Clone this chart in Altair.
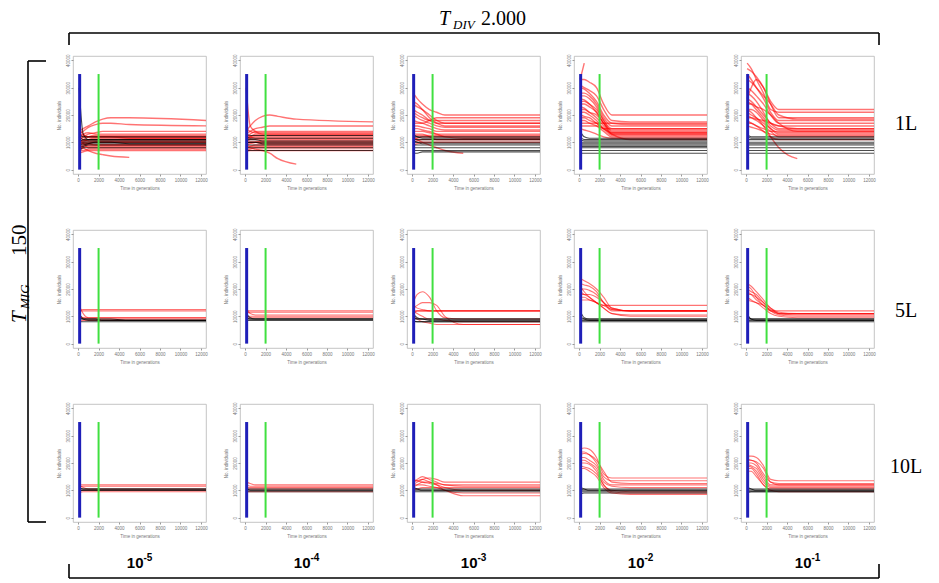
import altair as alt
import pandas as pd

# ---------------- data (in thousands of individuals) -------------
TIME = [100, 500, 1000, 1700, 2400, 3200, 5000, 12500]
X_TICKS = [0, 2000, 4000, 6000, 8000, 10000, 12000]
Y_TICKS = [0, 10000, 20000, 30000, 40000]
ROW_LABELS = ["1L", "5L", "10L"]
COL_EXPONENTS = ["-5", "-4", "-3", "-2", "-1"]
BLUE_X = 150
GREEN_X = 2000
MARKER_TOP = 35000
N = None

R1C1_RED = [
    [12, 11, 10.5, 10.5, 10.5, 10.5, 10.5, 10.5], [14, 15, 16, 17.5, 18.5, 19, 19, 18],
    [13, 14, 15.5, 16.5, 17, 17, 16.5, 16], [9, 9.5, 10, 10, 10, 10, 10, 10],
    [8, 8.5, 9, 9, 9, 9, 9, 9], [10, 11, 12, 12.5, 12.5, 12.5, 12.5, 12.5],
    [11, 12, 13, 13.5, 14, 14, 14, 14], [7, 7, 7.5, 7.5, 7.5, 7.5, 7.5, 7.5],
    [6, 6.5, 7, 7, 7, 7, 7, 7], [12, 12, 12, 12, 12, 12, 12, 12],
    [9, 8, 7, 6, 5.5, 5, 4.5, N], [10, 10.5, 11, 11, 11, 11, 11, 11],
    [8, 9, 9.5, 10, 10, 10, 10, 10], [13, 12.5, 12, 12, 12, 12, 12, 12],
    [11, 10, 9.5, 9, 9, 9, 9, 9], [15, 13, 12, 12, 12, 12, 11.5, 11.5],
    [7, 8, 8.5, 8.5, 8.5, 8.5, 8.5, 8.5], [9, 10, 11, 11.5, 11.5, 11.5, 11.5, 11.5],
    [12, 13, 13.5, 13, 13, 13, 13, 13], [10, 9.5, 8, 8, 8, 8, 8, 8],
]
R1C1_BLACK = [
    [10, 10, 10, 10, 10, 10, 10, 10], [9, 9.5, 9.5, 9.5, 9.5, 9.5, 9.5, 9.5],
    [11, 10.5, 10.5, 10.5, 10.5, 10.5, 10.5, 10.5], [8, 8.5, 9, 9, 9, 9, 9, 9],
    [12, 11, 11, 11, 11, 11, 11, 11], [9, 9, 9.5, 10, 10, 10, 9.5, 9.5],
    [13, 12, 12, 12, 12, 12, 12, 12], [7, 8, 8, 8, 8, 8, 8, 8],
    [30, 13, 11, 11, 11, 11, 11, 11],
]
R1C2_RED = [
    [10, 10, 10, 10, 10, 10, 10, 10], [12, 13, 14, 14, 14, 14, 14, 14],
    [14, 16, 18, 19.5, 20, 19.5, 18.5, 17.5], [13, 14, 15, 15.5, 16, 16, 16, 16],
    [30, 16, 14, 13, 13, 13, 13, 13], [11, 11.5, 12, 12, 12, 12, 12, 12],
    [9, 9.5, 10, 10.5, 10.5, 10.5, 10.5, 10.5], [8, 8, 7.5, 7, 6, 4, 2, N],
    [7, 7.5, 8, 8, 8, 8, 8, 8], [12, 12, 12.5, 12.5, 12.5, 12.5, 12.5, 12.5],
    [10, 11, 11, 11, 11, 11, 11, 11], [8, 8.5, 9, 9, 9, 9, 9, 9],
    [11, 12, 13, 13, 13, 13, 13, 13], [15, 14, 13.5, 13.5, 13.5, 13.5, 13.5, 13.5],
    [9, 8.5, 8.5, 8.5, 8.5, 8.5, 8.5, 8.5], [13, 12, 11.5, 11.5, 11.5, 11.5, 11.5, 11.5],
    [6.5, 7, 7, 7, 7, 7, 7, 7], [9.5, 10, 10, 9.5, 9.5, 9.5, 9.5, 9.5],
]
R1C2_BLACK = [
    [10, 10, 10, 10, 10, 10, 10, 10], [9, 9, 9, 9, 9, 9, 9, 9],
    [11, 11, 11, 10.5, 10.5, 10.5, 10.5, 10.5], [8, 8, 8, 8, 8, 8, 8, 8],
    [12, 11.5, 11.5, 11.5, 11.5, 11.5, 11.5, 11.5], [9.5, 10, 10, 9.5, 9.5, 9.5, 9.5, 9.5],
    [7, 7, 7, 7, 7, 7, 7, 7], [13, 12.5, 12.5, 12.5, 12.5, 12.5, 12.5, 12.5],
]
R1C3_RED = [
    [28, 26, 24, 22, 21, 20, 20, 20], [25, 24, 22, 19, 17, 16, 16, 16],
    [22, 21, 20, 18, 17, 17, 17, 17], [20, 19, 18, 17, 16, 15.5, 15.5, 15.5],
    [18, 17.5, 17, 16, 15, 14.5, 14.5, 14.5], [16, 16, 15.5, 15, 14, 14, 14, 14],
    [14, 14, 14, 13.5, 13, 13, 13, 13], [12, 12.5, 12.5, 12.5, 12.5, 12.5, 12.5, 12.5],
    [11, 11.5, 12, 12, 12, 12, 12, 12], [24, 23, 22, 20, 18, 17, 17, 17],
    [15, 15, 14.5, 14, 13, 12, 11.5, 11.5], [13, 13, 13, 12, 11, 11, 11, 11],
    [10, 10.5, 11, 11, 11, 11, 11, 11], [17, 17, 17, 18, 19, 19, 19, 19],
    [21, 20, 19, 18, 18, 18, 18, 18], [9, 9.5, 10, 10, 10, 10, 10, 10],
    [12, 11, 10, 9, 8, 7, 6, N],
]
R1C3_BLACK = [
    [10, 10, 10, 10, 10, 10, 10, 10], [9, 9, 9, 9, 9, 9, 9, 9],
    [11, 11, 11, 11, 11, 11, 11, 11], [8, 8, 8, 8, 8, 8, 8, 8],
    [12, 12, 12, 12, 12, 12, 12, 12], [7, 7, 7, 7, 7, 7, 7, 7],
    [10.5, 10, 9.5, 9.5, 9.5, 9.5, 9.5, 9.5], [13, 12, 11.5, 11.5, 11.5, 11.5, 11.5, 11.5],
    [6, 6, 6.5, 6.5, 6.5, 6.5, 6.5, 6.5],
]
R1C4_RED = [
    [33, 33, 32, 30, 24, 20, 20, 20], [31, 30, 29, 27, 22, 18, 17.5, 17.5],
    [30, 29.5, 28, 25, 20, 17, 16.5, 16.5], [28, 28, 27, 24, 19, 16, 16, 16],
    [27, 27, 26, 23, 18, 15, 15, 15], [26, 25.5, 24, 21, 17, 14.5, 14.5, 14.5],
    [25, 25, 24, 22, 18, 14, 14, 14], [24, 24, 23, 21, 17, 13.5, 13.5, 13.5],
    [23, 22.5, 21, 19, 16, 13, 13, 13], [22, 22, 21, 20, 17, 13, 13, 13],
    [21, 21, 20, 18, 15, 12.5, 12.5, 12.5], [20, 19.5, 19, 17, 15, 13.5, 13.5, 13.5],
    [19, 19, 18, 17, 15, 15, 15, 15], [18, 18, 17, 16, 14, 12, 12, 12],
    [17, 17, 17, 17, 17, 17, 17, 17], [33, 39, N, N, N, N, N, N],
    [16, 16, 16, 16, 15, 13, 11, 11], [15, 14.5, 14, 13, 12, 11.5, 11.5, 11.5],
]
R1C4_BLACK = [
    [10, 10, 10, 10, 10, 10, 10, 10], [9, 9, 9, 9, 9, 9, 9, 9],
    [11, 10.5, 10.5, 10.5, 10.5, 10.5, 10.5, 10.5], [8, 8, 8, 8, 8, 8, 8, 8],
    [7, 7, 7, 7, 7, 7, 7, 7], [12, 11, 11, 11, 11, 11, 11, 11],
    [9.5, 9.5, 9.5, 9.5, 9.5, 9.5, 9.5, 9.5], [6, 6, 6, 6, 6, 6, 6, 6],
    [14, 12, 11.5, 11.5, 11.5, 11.5, 11.5, 11.5], [8.5, 8.5, 8.5, 8.5, 8.5, 8.5, 8.5, 8.5],
]
R1C5_RED = [
    [39, 37, 33, 28, 22, 21, 21, 21], [37, 36, 34, 30, 24, 19, 19, 19],
    [35, 33, 30, 26, 21, 18, 18, 18], [33, 32, 30, 27, 24, 20, 18.5, 18.5],
    [30, 29, 27, 24, 20, 17, 17, 17], [28, 27, 25, 21, 17, 16, 16, 16],
    [26, 25, 23, 20, 17, 15, 15, 15], [25, 24, 22, 19, 16, 14.5, 14.5, 14.5],
    [24, 24, 23, 22, 20, 17, 14, 14], [22, 22, 21, 18, 15, 13, 13, 13],
    [21, 20, 19, 17, 15, 13.5, 13.5, 13.5], [20, 19, 18, 16, 14, 12, 12, 12],
    [19, 19, 18.5, 18, 17, 16, 15, 15], [18, 17, 16, 14, 12, 11, 11, 11],
    [17, 17, 16, 15, 14, 14, 14, 14], [22, 21, 19, 16, 12, 8, 4, N],
    [16, 15.5, 15, 14, 13, 12.5, 12.5, 12.5], [26, 30, 33, 30, 25, 22, 22, 22],
]
R1C5_BLACK = [
    [10, 10, 10, 10, 10, 10, 10, 10], [9, 9, 9, 9, 9, 9, 9, 9],
    [11, 11, 11, 11, 11, 11, 11, 11], [8, 8, 8, 8, 8, 8, 8, 8],
    [7, 7, 7, 7, 7, 7, 7, 7], [12, 11.5, 11.5, 11.5, 11.5, 11.5, 11.5, 11.5],
    [6, 6, 6, 6, 6, 6, 6, 6], [9.5, 9.5, 9.5, 9.5, 9.5, 9.5, 9.5, 9.5],
    [13, 12, 12, 12, 12, 12, 12, 12],
]
R2C1_RED = [
    [12, 12.5, 12.5, 12.5, 12.5, 12.5, 12.5, 12.5], [12, 12, 12, 12, 12, 12, 12, 12],
    [9, 9.5, 9.5, 9.5, 9.5, 9.5, 9.5, 9.5], [8, 8.5, 8.5, 8.5, 8.5, 8.5, 8.5, 8.5],
    [14, 11, 9.5, 9.5, 9.5, 9.5, 9.5, 9.5], [10, 9.5, 9, 9, 9, 9, 9, 9],
]
R2C1_BLACK = [
    [9, 9, 9, 9, 9, 9, 8.5, 8.5], [8, 8, 8, 8, 8, 8, 8, 8],
    [9.5, 9, 9, 9, 8.5, 8.5, 8.5, 8.5], [11, 9, 8.5, 8.5, 8.5, 8.5, 8.5, 8.5],
]
R2C2_RED = [
    [12, 12, 12, 12, 12, 12, 12, 12], [11, 11.5, 11.5, 11.5, 11.5, 11.5, 11.5, 11.5],
    [10, 10, 10, 10, 10, 10, 10, 10], [9, 9.5, 9.5, 9.5, 9.5, 9.5, 9.5, 9.5],
    [13, 11, 10.5, 10.5, 10.5, 10.5, 10.5, 10.5],
]
R2C2_BLACK = [
    [9, 9, 9, 9, 9, 9, 9, 9], [8.5, 8.5, 8.5, 8.5, 8.5, 8.5, 8.5, 8.5],
    [10, 9, 9, 9, 9, 9, 9, 9], [11, 9.5, 9, 9, 9, 9, 9, 9],
]
R2C3_RED = [
    [12, 12, 12, 12, 12, 12, 12, 12], [15, 18, 19, 17, 12, 9.5, 9, 9],
    [13, 14, 15, 15, 14, 10, 7, 7], [11, 12, 12, 12, 12, 12, 12, 12],
    [12, 11, 10, 9, 9, 8.5, 8, 8], [10, 9, 8, 7.5, 7, 7, 7, 7],
    [14, 13, 12.5, 12, 12, 12, 12, 12],
]
R2C3_BLACK = [
    [9, 9, 9, 9, 9, 9, 9, 9], [8, 8, 8, 8, 8, 8, 8, 8],
    [10, 9, 9, 8.5, 8.5, 8.5, 8.5, 8.5], [11, 9.5, 9, 9, 9, 9, 9, 9],
    [8.5, 8, 8, 8, 8, 8, 8, 8],
]
R2C4_RED = [
    [24, 23, 22, 20, 17, 13, 12, 12], [22, 21.5, 21, 19, 15, 12, 12, 12],
    [20, 20, 19.5, 18, 15, 12.5, 12, 12], [18, 18, 18, 17, 15, 13, 12, 12],
    [21, 19, 17, 15, 14, 14, 14, 14], [16, 16, 16, 15, 13, 11, 10, 10],
    [19, 18, 17, 15, 13, 11, 10.5, 10.5], [17, 17, 16, 15, 14, 12.5, 12, 12],
]
R2C4_BLACK = [
    [9, 9, 9, 9, 9, 9, 9, 9], [8, 8, 8, 8, 8, 8, 8, 8],
    [10, 9, 8.5, 8.5, 8.5, 8.5, 8.5, 8.5], [8.5, 8.5, 8.5, 8.5, 8.5, 8.5, 8.5, 8.5],
    [12, 9.5, 9, 9, 9, 9, 9, 9],
]
R2C5_RED = [
    [22, 21, 19, 16, 13, 11, 10.5, 10.5], [20, 19, 18, 15, 12, 10.5, 10, 10],
    [18, 18, 17, 15, 13, 11.5, 11, 11], [17, 16, 15, 14, 12, 11, 11, 11],
    [21, 20, 17, 14, 12, 12, 12, 12], [16, 15.5, 15, 13, 11, 10, 9.5, 9.5],
    [19, 18, 16, 14, 12.5, 11, 11, 11],
]
R2C5_BLACK = [
    [9, 9, 9, 9, 9, 9, 9, 9], [8, 8, 8, 8, 8, 8, 8, 8],
    [10, 9, 8.5, 8.5, 8.5, 8.5, 8.5, 8.5], [11, 9, 9, 9, 9, 9, 9, 9],
    [8.5, 8.5, 8.5, 8.5, 8.5, 8.5, 8.5, 8.5],
]
R3C1_RED = [
    [11, 11.5, 11.5, 11.5, 11.5, 11.5, 11.5, 11.5], [12, 11, 10.5, 10.5, 10.5, 10.5, 10.5, 10.5],
    [10, 10, 10, 10, 10, 10, 10, 10], [12, 12, 12, 12, 12, 12, 12, 12],
    [9, 9.5, 9.5, 9.5, 9.5, 9.5, 9.5, 9.5],
]
R3C1_BLACK = [
    [10.5, 10.5, 10.5, 10.5, 10.5, 10.5, 10.5, 10.5], [10, 10, 10, 10, 10, 10, 10, 10],
    [11, 10.5, 10.5, 10.5, 10.5, 10.5, 10.5, 10.5], [9.5, 10, 10, 10, 10, 10, 10, 10],
]
R3C2_RED = [
    [13, 12.5, 12, 12, 12, 12, 12, 12], [11, 11, 11, 11, 11, 11, 11, 11],
    [10, 10.5, 10.5, 10.5, 10.5, 10.5, 10.5, 10.5], [12, 11.5, 11.5, 11.5, 11.5, 11.5, 11.5, 11.5],
    [9.5, 9.5, 9.5, 9.5, 9.5, 9.5, 9.5, 9.5],
]
R3C2_BLACK = [
    [10, 10, 10, 10, 10, 10, 10, 10], [10.5, 10.5, 10.5, 10.5, 10.5, 10.5, 10.5, 10.5],
    [11, 10, 10, 10, 10, 10, 10, 10], [9.5, 9.5, 9.5, 9.5, 9.5, 9.5, 9.5, 9.5],
]
R3C3_RED = [
    [13, 14, 15, 14, 13, 12, 12, 12], [12, 13, 14, 14.5, 14, 13, 13, 13],
    [14, 13.5, 13, 12.5, 12, 11, 10, 10], [11, 12, 13, 13, 12, 10, 9, 9],
    [12, 12, 12, 11.5, 11, 10, 8, 8], [13, 13.5, 14, 13, 12.5, 12, 11.5, 11.5],
    [10, 10.5, 11, 11, 11, 11, 11, 11],
]
R3C3_BLACK = [
    [10, 10, 10, 10, 10, 10, 10, 10], [10.5, 10.5, 10.5, 10.5, 10.5, 10.5, 10.5, 10.5],
    [11, 10.5, 10, 10, 10, 10, 10, 10], [9.5, 9.5, 9.5, 9.5, 9.5, 9.5, 9.5, 9.5],
]
R3C4_RED = [
    [25, 25.5, 25, 22, 16, 14.5, 14.5, 14.5], [24, 24, 23, 20, 15, 13.5, 13.5, 13.5],
    [23, 23.5, 23, 21, 17, 13, 12.5, 12.5], [22, 22, 21, 19, 14, 12, 12, 12],
    [21, 21, 20, 18, 13, 11.5, 11, 11], [20, 20, 19.5, 17, 12, 10, 9.5, 9.5],
    [19, 18.5, 18, 16, 12, 9.5, 9, 9], [18, 18, 17, 15, 11, 9, 8.5, 8.5],
]
R3C4_BLACK = [
    [10, 10, 10, 10, 10, 10, 10, 10], [9.5, 9.5, 9.5, 9.5, 9.5, 9.5, 9.5, 9.5],
    [11, 10.5, 10, 10, 10, 10, 10, 10], [10, 10.5, 10.5, 10.5, 10.5, 10.5, 10.5, 10.5],
    [8.5, 9, 9, 9, 9, 9, 9, 9],
]
R3C5_RED = [
    [22.5, 22.5, 22, 19, 14, 13.5, 13.5, 13.5], [21, 21, 20, 16, 13, 12.5, 12.5, 12.5],
    [20, 20, 19, 15, 12, 12, 12, 12], [19.5, 19, 18, 14, 11.5, 11.5, 11.5, 11.5],
    [19, 18.5, 17, 13, 11, 11, 11, 11], [18, 18, 16, 12, 10.5, 10.5, 10.5, 10.5],
    [21.5, 21, 20.5, 18, 13, 12, 12, 12], [17, 17, 15, 12, 10, 9.5, 9.5, 9.5],
]
R3C5_BLACK = [
    [10, 10, 10, 10, 10, 10, 10, 10], [9.5, 9.5, 9.5, 9.5, 9.5, 9.5, 9.5, 9.5],
    [11, 10.5, 10, 10, 10, 10, 10, 10], [10.5, 10.5, 10.5, 10.5, 10.5, 10.5, 10.5, 10.5],
    [9, 9.5, 9.5, 9.5, 9.5, 9.5, 9.5, 9.5],
]

PANELS = {
    (0, 0): (R1C1_RED, R1C1_BLACK), (0, 1): (R1C2_RED, R1C2_BLACK), (0, 2): (R1C3_RED, R1C3_BLACK),
    (0, 3): (R1C4_RED, R1C4_BLACK), (0, 4): (R1C5_RED, R1C5_BLACK),
    (1, 0): (R2C1_RED, R2C1_BLACK), (1, 1): (R2C2_RED, R2C2_BLACK), (1, 2): (R2C3_RED, R2C3_BLACK),
    (1, 3): (R2C4_RED, R2C4_BLACK), (1, 4): (R2C5_RED, R2C5_BLACK),
    (2, 0): (R3C1_RED, R3C1_BLACK), (2, 1): (R3C2_RED, R3C2_BLACK), (2, 2): (R3C3_RED, R3C3_BLACK),
    (2, 3): (R3C4_RED, R3C4_BLACK), (2, 4): (R3C5_RED, R3C5_BLACK),
}

# ---------------- layout constants -------------
PW, PH = 133, 118
SERIF = "Liberation Serif"
SANS = "Liberation Sans"


def lines_frame(lines, kind):
    rows = []
    for i, line in enumerate(lines):
        for t, v in zip(TIME, line):
            rows.append({"line": f"{kind}{i}", "t": t,
                         "n": None if v is None else v * 1000})
    return pd.DataFrame(rows)


xs = alt.Scale(domain=[-500, 12500], nice=False, zero=False)
ys = alt.Scale(domain=[-1600, 41600], nice=False, zero=False)
x_axis = alt.Axis(values=X_TICKS, format="d", title="Time in generations", grid=False,
                  domain=False, labelFontSize=4.5, titleFontSize=4.5, tickSize=2,
                  labelPadding=1, titlePadding=4, labelColor="#777", titleColor="#777",
                  tickColor="#999", labelFont=SANS, titleFont=SANS, titleFontWeight="normal",
                  labelFlush=False)
y_axis = alt.Axis(values=Y_TICKS, format="d", title="No. individuals", grid=False, domain=False,
                  labelFontSize=4.5, titleFontSize=4.5, tickSize=2, labelPadding=1,
                  titlePadding=4, labelAngle=270, labelColor="#777", titleColor="#777",
                  tickColor="#999", labelFont=SANS, titleFont=SANS, titleFontWeight="normal",
                  labelFlush=False)


def one_row(**kw):
    return pd.DataFrame([kw])


def txt(text, x, y, size, font=SERIF, style="normal", weight="normal", align="left",
        baseline="alphabetic", angle=0):
    return alt.Chart(one_row(label=text)).mark_text(
        font=font, fontSize=size, fontStyle=style, fontWeight=weight, align=align,
        baseline=baseline, angle=angle, color="black"
    ).encode(x=alt.value(x), y=alt.value(y), text="label:N")


def hrule(x1, x2, y):
    return alt.Chart(one_row(k=1)).mark_rule(color="black", strokeWidth=1.6).encode(
        x=alt.value(x1), x2=alt.value(x2), y=alt.value(y))


def vrule(x, y1, y2):
    return alt.Chart(one_row(k=1)).mark_rule(color="black", strokeWidth=1.6).encode(
        x=alt.value(x), y=alt.value(y1), y2=alt.value(y2))


def panel(r, c):
    red, black = PANELS[(r, c)]
    X = alt.X("t:Q", scale=xs, axis=x_axis)
    Y = alt.Y("n:Q", scale=ys, axis=y_axis)
    sw = 1.4 if r == 0 else 1.1
    red_layer = alt.Chart(lines_frame(red, "r")).mark_line(
        color="#ff0000", strokeWidth=sw, opacity=0.55, interpolate="monotone", clip=True
    ).encode(x=X, y=Y, detail="line:N")
    black_layer = alt.Chart(lines_frame(black, "b")).mark_line(
        color="#000000", strokeWidth=1.1, opacity=0.7, interpolate="monotone", clip=True
    ).encode(x=X, y=Y, detail="line:N")
    marks = pd.DataFrame({"t": [BLUE_X, GREEN_X], "n": [0, 0], "n2": [MARKER_TOP, MARKER_TOP],
                          "which": ["blue", "green"]})
    blue = alt.Chart(marks[marks.which == "blue"]).mark_rule(color="#1f1fb8", strokeWidth=3).encode(
        x=X, y=Y, y2="n2:Q")
    green = alt.Chart(marks[marks.which == "green"]).mark_rule(color="#40e040", strokeWidth=2).encode(
        x=X, y=Y, y2="n2:Q")
    layers = [red_layer, black_layer, blue, green]

    if r == 0 and c == 0:
        # top bracket
        layers += [hrule(-4, 806, -23), vrule(-4, -23, -11), vrule(806, -23, -11)]
        # left bracket
        layers += [vrule(-45, 5, 466), hrule(-45, -27, 5), hrule(-45, -27, 466)]
        # left title T_MIG 150
        layers += [txt("T", -47, 267, 21, style="italic", angle=270),
                   txt("MIG", -44, 253, 13, style="italic", angle=270),
                   txt("150", -47, 200, 21, angle=270)]
    if r == 0 and c == 2:
        layers += [txt("T", 32, -31, 20, style="italic"),
                   txt("DIV", 46, -27, 13, style="italic"),
                   txt("2.000", 74, -31, 20)]
    if c == 4:
        ly = [68, 81, 63][r]
        layers += [txt(ROW_LABELS[r], 165, ly, 20, align="center", baseline="middle")]
    if r == 2:
        layers += [txt("10", 70.5, 164, 15, font=SANS, weight="bold", align="right"),
                   txt(COL_EXPONENTS[c], 70.5, 157, 10, font=SANS, weight="bold")]
        if c == 0:
            layers += [hrule(-4, 806, 174), vrule(-4, 160, 174), vrule(806, 160, 174)]

    return alt.layer(*layers).properties(width=PW, height=PH)


charts = [panel(r, c) for r in range(3) for c in range(5)]
chart = alt.concat(*charts, columns=5, spacing={"row": 56, "column": 34}, bounds="flush").properties(
    padding={"left": 0, "top": 0, "right": 0, "bottom": 0},
    background="white",
).configure_view(stroke="#b5b5b5", strokeWidth=0.8)

chart.save("out.html", embed_options={"renderer": "svg", "actions": False})
